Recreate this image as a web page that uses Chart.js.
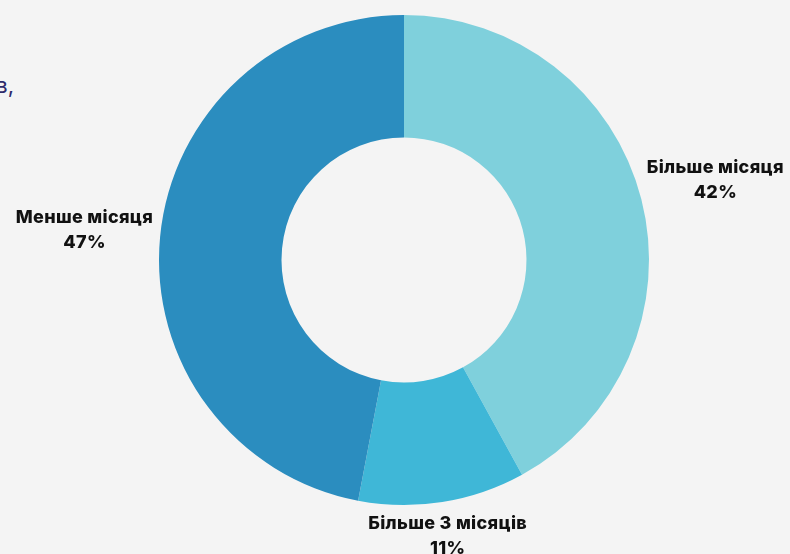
<!DOCTYPE html>
<html>
<head>
<meta charset="utf-8">
<script src="https://cdn.jsdelivr.net/npm/chart.js@4.4.1/dist/chart.umd.min.js"></script>
<style>
    html, body { margin: 0; padding: 0; background: #f4f4f4; }
    .wrap { position: relative; width: 790px; height: 554px; overflow: hidden; }
    .cut-text {
        position: absolute; right: 776px; top: 72px;
        font-family: 'Inter', sans-serif; font-size: 22px; color: #2e2b6b;
        white-space: nowrap;
    }
    canvas { position: absolute; left: 0; top: 0; }
</style>
</head>
<body>
<div class="wrap">
    <div class="cut-text">в,</div>
    <canvas id="durationChart" width="790" height="554"></canvas>
</div>
<script>
const categories = ['Більше місяця', 'Більше 3 місяців', 'Менше місяця'];
const shares = [42, 11, 47];
const sliceColors = ['#7fd0dc', '#3fb7d7', '#2b8dbf'];

// Draw category + percent labels outside each slice
const outsideLabels = {
    id: 'outsideLabels',
    afterDatasetsDraw(chart) {
        const ctx = chart.ctx;
        const meta = chart.getDatasetMeta(0);
        ctx.save();
        ctx.font = '800 18px Inter, sans-serif';
        ctx.letterSpacing = '0.3px';
        ctx.fillStyle = '#111111';
        ctx.textAlign = 'center';
        ctx.textBaseline = 'middle';
        meta.data.forEach((arc, i) => {
            const mid = (arc.startAngle + arc.endAngle) / 2;
            const dx = Math.cos(mid);
            const dy = Math.sin(mid);
            const lines = [categories[i], shares[i] + '%'];
            const w = Math.max(...lines.map(t => ctx.measureText(t).width));
            const h = 32;
            const r = arc.outerRadius + 6 + Math.abs(dx) * w / 2 + Math.abs(dy) * h / 2;
            const cx = arc.x + r * dx;
            const cy = arc.y + r * dy;
            ctx.fillText(lines[0], cx, cy - 12.5);
            ctx.fillText(lines[1], cx, cy + 12.5);
        });
        ctx.restore();
    }
};

const chartCtx = document.getElementById('durationChart').getContext('2d');
const durationChart = new Chart(chartCtx, {
    type: 'doughnut',
    data: {
        labels: categories,
        datasets: [
            {
                data: shares,
                backgroundColor: sliceColors,
                borderWidth: 0,
            },
        ],
    },
    options: {
        responsive: false,
        animation: false,
        cutout: '50%',
        layout: {
            padding: { left: 159, right: 141, top: 15, bottom: 49 },
        },
        plugins: {
            legend: { display: false },
            tooltip: { enabled: false },
        },
    },
    plugins: [outsideLabels],
});
</script>
</body>
</html>
